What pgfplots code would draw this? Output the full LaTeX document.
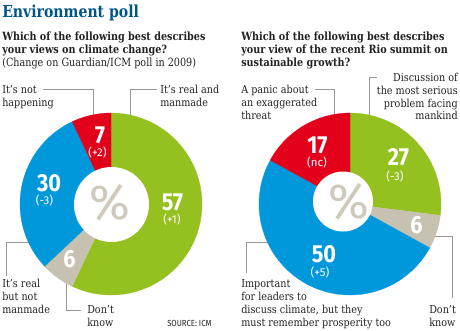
\documentclass[border=0pt]{standalone}
\usepackage{pgfplots}
\pgfplotsset{compat=1.18}
\usepackage{fontspec}
\setmainfont{DejaVu Serif}[FakeStretch=0.85]
\newfontfamily\labfont{DejaVu Serif}[FakeStretch=0.88]
\newfontfamily\numfont{Fira Sans}[FakeStretch=0.88]
\newfontfamily\pctfont{Fira Sans}
\definecolor{pgreen}{RGB}{148,193,31}
\definecolor{pred}{RGB}{226,0,26}
\definecolor{pblue}{RGB}{0,152,218}
\definecolor{pgray}{RGB}{199,193,178}
\definecolor{pctgray}{RGB}{207,201,188}
\definecolor{tblue}{RGB}{0,86,137}
\definecolor{txt}{RGB}{34,34,34}
\definecolor{lead}{RGB}{150,150,150}
% one donut slice: cx, cy, R, start (percent), value (percent), colour
\newcommand{\donutslice}[6]{%
  \pgfmathsetmacro{\sa}{90-3.6*(#4)}%
  \pgfmathsetmacro{\sb}{90-3.6*(#4+#5)}%
  \addplot[fill=#6, draw=#6, line width=0.2pt, domain=\sb:\sa, samples=90, variable=\t]
    ({#1+#3*cos(\t)},{#2-#3*sin(\t)}) -- (axis cs:#1,#2) -- cycle;
}
\newcommand{\hole}[3]{%
  \addplot[fill=white, draw=none, domain=0:360, samples=120, variable=\t]
    ({#1+#3*cos(\t)},{#2-#3*sin(\t)}) -- cycle;
}
\begin{document}
\begin{tikzpicture}
\begin{axis}[
  width=345pt, height=247.5pt, scale only axis,
  xmin=0, xmax=460, ymin=0, ymax=330, y dir=reverse,
  hide axis, clip=false]
\path (axis cs:0,0) rectangle (axis cs:460,330);
% leader lines (under the donuts)
\draw[lead, line width=0.6pt] (axis cs:43,89) -- (axis cs:93,89) -- (axis cs:93,118);
\draw[lead, line width=0.6pt] (axis cs:157,89) -- (axis cs:130,89) -- (axis cs:130,118);
\draw[lead, line width=0.6pt] (axis cs:32,242) -- (axis cs:6,242) -- (axis cs:6,276);
\draw[lead, line width=0.6pt] (axis cs:66,278) -- (axis cs:66,310) -- (axis cs:81,310);
\draw[lead, line width=0.6pt] (axis cs:315,89) -- (axis cs:334,89) -- (axis cs:334,118);
\draw[lead, line width=0.6pt] (axis cs:377,77) -- (axis cs:369,77) -- (axis cs:369,118);
\draw[lead, line width=0.6pt] (axis cs:270,242) -- (axis cs:246,242) -- (axis cs:246,273);
\draw[lead, line width=0.6pt] (axis cs:430,236) -- (axis cs:452,236) -- (axis cs:452,298);
% left donut: 57 real and manmade, 6 don't know, 30 real not manmade, 7 not happening
\donutslice{111}{204}{91}{0}{57}{pgreen}
\donutslice{111}{204}{91}{57}{6}{pgray}
\donutslice{111}{204}{91}{63}{30}{pblue}
\donutslice{111}{204}{91}{93}{7}{pred}
\hole{111.5}{204.5}{37.5}
% right donut: 27 serious, 6 don't know, 50 important, 17 panic
\donutslice{350}{204}{91}{0}{27}{pgreen}
\donutslice{350}{204}{91}{27}{6}{pgray}
\donutslice{350}{204}{91}{33}{50}{pblue}
\donutslice{350}{204}{91}{83}{17}{pred}
\hole{343}{201.5}{30}
% percent signs
\node[text=pctgray, font=\pctfont\fontsize{37}{40}\selectfont, anchor=center] at (axis cs:110,203) {\%};
\node[text=pctgray, font=\pctfont\fontsize{37}{40}\selectfont, anchor=center] at (axis cs:348.5,202) {\%};
% big numbers
\tikzset{big/.style={text=white, font=\numfont\bfseries\fontsize{18.5}{20}\selectfont, anchor=base, inner sep=0},
         small/.style={text=white, font=\pctfont\fontsize{8.6}{9}\selectfont, anchor=center, inner sep=0}}
\node[big] at (axis cs:100,143) {7};
\node[small] at (axis cs:97.5,152.5) {(+2)};
\node[big] at (axis cs:172.5,210) {57};
\node[small] at (axis cs:172,219) {(+1)};
\node[big] at (axis cs:49,191) {30};
\node[small] at (axis cs:44.5,200.5) {(-3)};
\node[big] at (axis cs:69.5,267) {6};
\node[big] at (axis cs:317.5,153) {17};
\node[small] at (axis cs:317,162.5) {(nc)};
\node[big] at (axis cs:398.5,165.5) {27};
\node[small] at (axis cs:395,176.5) {(-3)};
\node[big] at (axis cs:416.5,233) {6};
\node[big] at (axis cs:324,262.5) {50};
\node[small] at (axis cs:320,272) {(+5)};
% titles
\tikzset{ttl/.style={anchor=base west, inner sep=0, text=tblue, font=\bfseries\fontsize{12.4}{14}\selectfont},
         q/.style={anchor=base west, inner sep=0, text=txt, font=\bfseries\fontsize{8.5}{10}\selectfont},
         qr/.style={anchor=base west, inner sep=0, text=txt, font=\fontsize{8.5}{10}\selectfont},
         lab/.style={anchor=base west, inner sep=0, text=txt, font=\labfont\fontsize{8.2}{9.5}\selectfont},
         labr/.style={anchor=base east, inner sep=0, text=txt, font=\labfont\fontsize{8.2}{9.5}\selectfont}}
\node[ttl] at (axis cs:2,17) {Environment poll};
\node[q] at (axis cs:2,40) {Which of the following best describes};
\node[q] at (axis cs:2,53) {your views on climate change?};
\node[qr] at (axis cs:2,66) {(Change on Guardian/ICM poll in 2009)};
\node[q] at (axis cs:241,40) {Which of the following best describes};
\node[q] at (axis cs:241,53) {your view of the recent Rio summit on};
\node[q] at (axis cs:241,66) {sustainable growth?};
% labels, left donut
\node[lab] at (axis cs:2,93) {It’s not};
\node[lab] at (axis cs:2,106) {happening};
\node[lab] at (axis cs:160,93) {It’s real and};
\node[lab] at (axis cs:160,106) {manmade};
\node[lab] at (axis cs:2,287) {It’s real};
\node[lab] at (axis cs:2,300) {but not};
\node[lab] at (axis cs:2,313) {manmade};
\node[lab] at (axis cs:87,313) {Don’t};
\node[lab] at (axis cs:87,326) {know};
\node[anchor=base west, inner sep=0, text=txt, font=\numfont\fontsize{6.6}{8}\selectfont] at (axis cs:167,326) {SOURCE: ICM};
% labels, right donut
\node[lab] at (axis cs:241,93) {A panic about};
\node[lab] at (axis cs:241,106) {an exaggerated};
\node[lab] at (axis cs:241,119) {threat};
\node[labr] at (axis cs:458,81) {Discussion of};
\node[labr] at (axis cs:458,94) {the most serious};
\node[labr] at (axis cs:458,107) {problem facing};
\node[labr] at (axis cs:458,119) {mankind};
\node[lab] at (axis cs:241,287) {Important};
\node[lab] at (axis cs:241,300) {for leaders to};
\node[lab] at (axis cs:241,313) {discuss climate, but they};
\node[lab] at (axis cs:241,326) {must remember prosperity too};
\node[lab] at (axis cs:429,313) {Don’t};
\node[lab] at (axis cs:429,326) {know};
\end{axis}
\end{tikzpicture}
\end{document}
